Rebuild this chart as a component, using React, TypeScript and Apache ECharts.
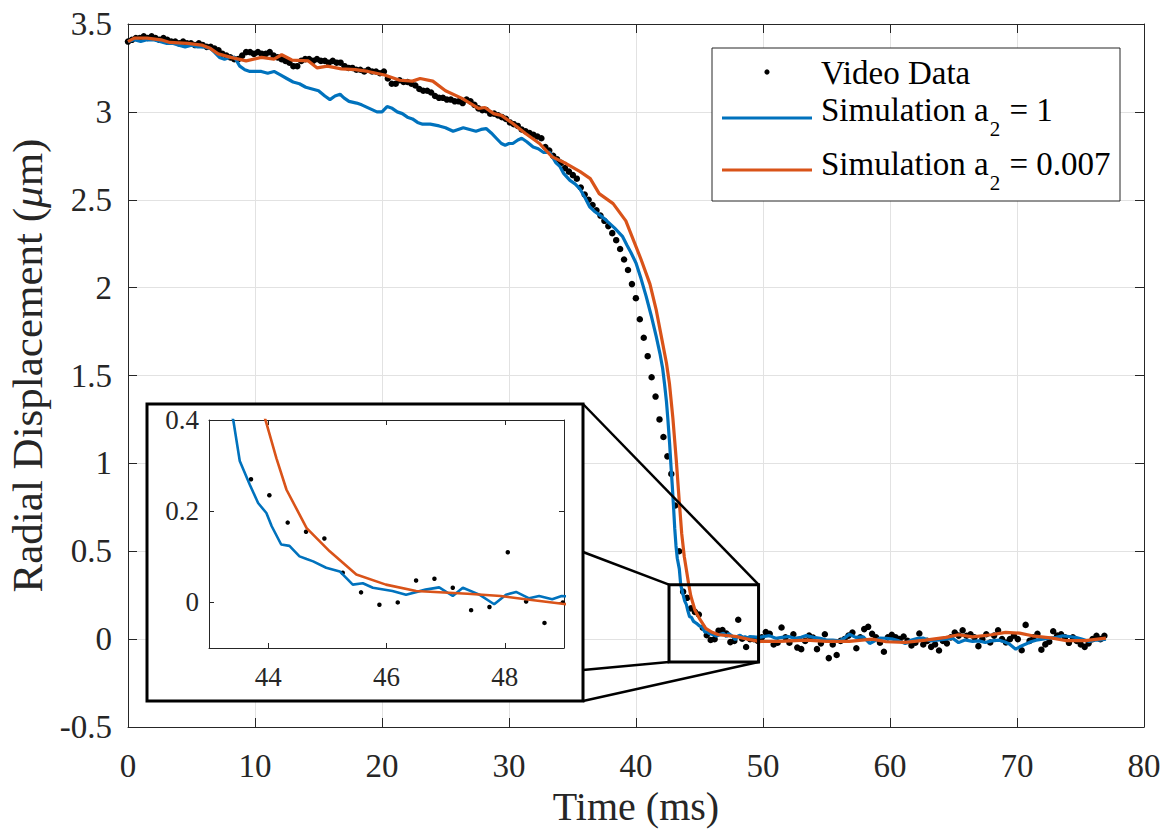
import React, { useEffect, useRef } from "react";
import * as echarts from "echarts";

const FONT = '"Liberation Serif", "Times New Roman", Times, serif';
const INK = "#262626";
const GRID_GRAY = "#e2e2e2";
const BLUE = "#0072BD";
const ORANGE = "#D95319";

// ---- Video data: one sample per frame (frame period in ms) ----
const FRAME_MS = 0.31;
const videoSeg1 = [3.40, 3.41, 3.42, 3.42, 3.43, 3.42, 3.43, 3.42, 3.41, 3.42, 3.41, 3.40, 3.40, 3.39, 3.40, 3.39, 3.39, 3.38, 3.39, 3.38, 3.37, 3.37, 3.36, 3.35, 3.33, 3.32, 3.31, 3.30, 3.30, 3.32, 3.34, 3.34, 3.33];
const videoSeg2 = [3.34, 3.33, 3.33, 3.34, 3.32, 3.31, 3.30, 3.29, 3.28, 3.26, 3.26, 3.29, 3.30, 3.30, 3.29, 3.30, 3.29, 3.29, 3.28, 3.29, 3.28, 3.28, 3.26, 3.25, 3.25, 3.24, 3.24, 3.23, 3.24, 3.23, 3.23, 3.22, 3.23];
const videoSeg3 = [3.19, 3.16, 3.16, 3.18, 3.17, 3.17, 3.16, 3.15, 3.13, 3.12, 3.12, 3.11, 3.09, 3.08, 3.08, 3.07, 3.07, 3.06, 3.06, 3.05, 3.07, 3.06, 3.04, 3.02, 3.01, 3.01, 2.99, 2.99, 2.98, 2.97, 2.96, 2.94, 2.93, 2.92];
const videoSeg4 = [2.90, 2.89, 2.88, 2.87, 2.86, 2.85, 2.80, 2.78, 2.75, 2.73, 2.71, 2.68, 2.66, 2.64, 2.62, 2.57, 2.53, 2.50, 2.47, 2.44, 2.41, 2.38, 2.35, 2.31, 2.27, 2.22, 2.16, 2.10, 2.02, 1.94, 1.82, 1.715, 1.61, 1.49, 1.38, 1.25, 1.15, 1.04, 0.94, 0.76, 0.50];
const videoSeg5 = [0.27, 0.235, 0.175, 0.155, 0.14, 0.065, 0.022, -0.005, 0.0, 0.048, 0.052, 0.032, -0.017, -0.01, 0.11, 0.002, -0.045, 0.0];
const videoSeg6 = [0.0, -0.01, 0.01, 0.04, 0.03, -0.03, -0.02, 0.066, 0.01, -0.02, 0.028, -0.048, -0.057, -0.01, 0.02, 0.009, -0.057, -0.024, 0.028, -0.108, -0.03, -0.09, -0.01, 0.0, 0.02, 0.038, -0.052, 0.01, 0.057, 0.07];
const videoSeg7 = [0.03, 0.01, -0.02, -0.072, 0.01, 0.025, 0.01, 0.0, 0.015, -0.01, -0.036, -0.02, 0.032, -0.03, -0.01, -0.044, -0.03, -0.065, -0.01, -0.024, 0.01, 0.038, 0.02, 0.05, 0.019, 0.028, 0.01, -0.04, 0.0, 0.028];
const videoSeg8 = [-0.019, 0.02, 0.05, 0.0, -0.019, 0.0, 0.019, 0.0, -0.063, 0.081, -0.01, 0.01, 0.03, -0.06, -0.03, -0.015, 0.045, 0.02, 0.028, 0.01, -0.021, 0.01, -0.01, -0.03, -0.044, -0.024, 0.0, 0.019, 0.0, 0.019];
const videoValues = [...videoSeg1, ...videoSeg2, ...videoSeg3, ...videoSeg4, ...videoSeg5, ...videoSeg6, ...videoSeg7, ...videoSeg8];

// ---- Simulation a2 = 1 (time ms, displacement um) ----
const simA1: [number, number][] = [
  [0, 3.40], [0.5, 3.41], [1.0, 3.40], [1.5, 3.41], [2.0, 3.41], [2.5, 3.40], [3.0, 3.39], [3.5, 3.39], [4.0, 3.38], [4.5, 3.37],
  [5.0, 3.38], [5.5, 3.37], [6.0, 3.37], [6.5, 3.36], [6.8, 3.34], [7.2, 3.31], [7.6, 3.30], [8.0, 3.31], [8.4, 3.31], [8.8, 3.26],
  [9.2, 3.24], [9.6, 3.23], [10.0, 3.23], [10.5, 3.23], [11.0, 3.22], [11.5, 3.23], [12.0, 3.21], [12.5, 3.19], [13.0, 3.17], [13.5, 3.16],
  [14.0, 3.14], [14.5, 3.13], [15.0, 3.12], [15.5, 3.09], [15.9, 3.07], [16.3, 3.09], [16.7, 3.10], [17.0, 3.08], [17.4, 3.06], [18.0, 3.05],
  [18.4, 3.04], [19.0, 3.02], [19.6, 3.00], [20.0, 3.00], [20.4, 3.03], [20.8, 3.02], [21.2, 3.00], [21.6, 2.99], [22.0, 2.97], [22.4, 2.96],
  [22.8, 2.94], [23.2, 2.93], [23.8, 2.93], [24.5, 2.92], [25.0, 2.91], [25.6, 2.89], [26.0, 2.90], [26.4, 2.91], [26.9, 2.90], [27.4, 2.89],
  [27.8, 2.90], [28.2, 2.905], [28.6, 2.88], [29.0, 2.85], [29.4, 2.82], [29.7, 2.81], [30.0, 2.82], [30.3, 2.82], [30.7, 2.84], [31.0, 2.85],
  [31.4, 2.83], [31.9, 2.80], [32.3, 2.79], [32.7, 2.77], [33.2, 2.77], [33.7, 2.71], [34.0, 2.69], [34.3, 2.65], [34.8, 2.61], [35.2, 2.59],
  [35.6, 2.56], [36.0, 2.51], [36.35, 2.46], [36.8, 2.43], [37.2, 2.41], [37.7, 2.38], [38.3, 2.34], [38.95, 2.29], [39.3, 2.24], [39.6, 2.20],
  [40.0, 2.14], [40.4, 2.05], [40.8, 1.95], [41.2, 1.84], [41.6, 1.72], [41.9, 1.62], [42.1, 1.54], [42.25, 1.45], [42.4, 1.35], [42.5, 1.26],
  [42.65, 1.11], [42.75, 0.99], [42.85, 0.88], [42.95, 0.76], [43.05, 0.63], [43.15, 0.53], [43.25, 0.46], [43.41, 0.40], [43.52, 0.31], [43.69, 0.258],
  [43.83, 0.218], [43.97, 0.196], [44.06, 0.167], [44.22, 0.127], [44.36, 0.124], [44.53, 0.101], [44.65, 0.095], [44.76, 0.09], [44.98, 0.076], [45.21, 0.068],
  [45.43, 0.039], [45.6, 0.042], [45.77, 0.032], [46.1, 0.025], [46.33, 0.017], [46.66, 0.028], [46.89, 0.033], [47.12, 0.014], [47.29, 0.032], [47.57, 0.017],
  [47.82, -0.004], [48.02, 0.017], [48.19, 0.023], [48.41, 0.009], [48.58, 0.014], [48.8, 0.007], [48.96, 0.014], [49.7, 0.01], [50.5, 0.02], [51.0, 0.005],
  [51.5, 0.01], [52.0, 0.015], [52.5, 0.005], [53.0, 0.01], [53.4, 0.02], [54.0, 0.01], [54.5, 0.005], [55.0, -0.005], [55.5, -0.005], [56.0, -0.01],
  [56.4, 0.005], [56.8, 0.028], [57.3, 0.01], [57.9, 0.013], [58.4, -0.025], [58.8, -0.01], [59.2, 0.006], [59.7, 0.005], [60.2, 0.0], [60.7, -0.01],
  [61.2, -0.025], [61.7, -0.005], [62.2, 0.005], [62.6, 0.006], [63.2, -0.01], [63.9, -0.005], [64.4, 0.0], [64.9, 0.006], [65.4, -0.02], [65.9, -0.005],
  [66.5, -0.013], [67.0, -0.01], [67.5, -0.019], [68.0, -0.01], [68.6, -0.006], [69.0, -0.015], [69.4, -0.028], [69.9, -0.057], [70.3, -0.04], [70.7, -0.028],
  [71.1, -0.015], [71.5, -0.006], [72.0, 0.0], [72.6, 0.006], [73.1, 0.01], [73.6, 0.019], [74.1, 0.015], [74.6, 0.01], [75.1, 0.0], [75.7, -0.013],
  [76.1, -0.005], [76.5, -0.006], [77.0, 0.0],
];

// ---- Simulation a2 = 0.007 ----
const simA007: [number, number][] = [
  [0, 3.40], [0.5, 3.42], [1.5, 3.42], [2.6, 3.41], [3.3, 3.395], [4.7, 3.39], [5.8, 3.38], [6.5, 3.36], [7.1, 3.33], [8.1, 3.31],
  [9.3, 3.29], [10.5, 3.31], [11.5, 3.30], [12.1, 3.325], [12.9, 3.295], [14.2, 3.29], [14.9, 3.25], [15.7, 3.26], [16.8, 3.245], [17.9, 3.24],
  [18.9, 3.23], [20.2, 3.21], [21.4, 3.18], [22.4, 3.175], [23.0, 3.19], [24.0, 3.175], [25.0, 3.12], [26.3, 3.077], [27.6, 3.02], [28.1, 3.025],
  [28.8, 2.99], [29.4, 2.98], [30.3, 2.934], [31.3, 2.877], [32.4, 2.82], [33.4, 2.744], [34.5, 2.706], [35.6, 2.66], [36.4, 2.62], [37.1, 2.535],
  [38.2, 2.478], [39.2, 2.38], [40.4, 2.16], [41.1, 2.02], [41.6, 1.87], [42.0, 1.72], [42.4, 1.57], [42.64, 1.45], [42.9, 1.26], [43.17, 1.02],
  [43.4, 0.79], [43.6, 0.60], [43.8, 0.47], [43.97, 0.393], [44.14, 0.316], [44.31, 0.247], [44.65, 0.163], [45.04, 0.112], [45.49, 0.061], [45.99, 0.039],
  [46.5, 0.025], [47.37, 0.019], [47.93, 0.014], [48.35, 0.007], [48.97, -0.003], [49.7, -0.013], [51.3, -0.013], [53.4, -0.006], [55.0, -0.013], [56.8, -0.013],
  [58.6, 0.0], [59.7, -0.015], [61.2, -0.019], [62.8, -0.006], [64.4, 0.01], [65.4, 0.025], [66.5, 0.013], [68.0, 0.025], [69.1, 0.038], [70.2, 0.034],
  [71.2, 0.019], [72.8, 0.006], [73.9, -0.009], [75.4, -0.009], [77.0, 0.006],
];

const seriesNames = ["Video Data", "Simulation a", "Simulation a"];
const legendSuffix = ["", " = 1", " = 0.007"];

// Inset axes
const insetXTicks = [44, 46, 48];
const insetYTicks = [0, 0.2, 0.4];
const insetXRange = [43, 49];
const insetYRange = [-0.1, 0.4];
// Zoomed region marked on the main plot (data units)
const zoomBoxX = [42.6, 49.65];
const zoomBoxY = [-0.13, 0.31];

export default function App() {
  const ref = useRef<HTMLDivElement>(null);

  useEffect(() => {
    const el = ref.current!;
    const chart = echarts.init(el, null, { renderer: "svg" });
    const videoData = videoValues.map((v, i) => [Math.round(i * FRAME_MS * 100) / 100, v]);

    const mainAxisLine = { show: true, onZero: false, lineStyle: { color: INK, width: 1 } };
    const mainTick = { show: true, inside: true, length: 9, lineStyle: { color: INK, width: 1 } };
    const insetAxisLine = { show: true, onZero: false, lineStyle: { color: INK, width: 1 } };
    const richLabel = (size: number) => ({
      color: INK, fontFamily: FONT, fontSize: size,
      formatter: "{t|{value}}",
      rich: { t: { color: INK, fontFamily: FONT, fontSize: size } },
    });

    chart.setOption({
      animation: false,
      backgroundColor: "#ffffff",
      grid: [
        { left: 128, top: 24, width: 1016, height: 703, show: false, containLabel: false, outerBoundsMode: "none" },
        { left: 209, top: 420, width: 355, height: 228, show: false, z: 10, containLabel: false, outerBoundsMode: "none" },
      ],
      xAxis: [
        {
          type: "value", gridIndex: 0, position: "bottom", min: 0, max: 80, interval: 10,
          axisLine: mainAxisLine, axisTick: mainTick,
          axisLabel: { ...richLabel(33), margin: 22 },
          splitLine: { show: true, lineStyle: { color: GRID_GRAY, width: 1 } },
          name: "Time (ms)", nameLocation: "middle", nameGap: 54,
          nameTextStyle: { color: INK, fontFamily: FONT, fontSize: 40 },
        },
        {
          type: "value", gridIndex: 0, position: "top", min: 0, max: 80, interval: 10,
          axisLine: mainAxisLine, axisTick: mainTick, axisLabel: { show: false }, splitLine: { show: false },
        },
        {
          type: "value", gridIndex: 1, position: "bottom", min: insetXRange[0], max: insetXRange[1], z: 10,
          axisLine: insetAxisLine,
          axisTick: { show: true, inside: true, length: 5, customValues: insetXTicks, lineStyle: { color: INK } },
          axisLabel: { ...richLabel(27), margin: 15, customValues: insetXTicks },
          splitLine: { show: false },
        },
        {
          type: "value", gridIndex: 1, position: "top", min: insetXRange[0], max: insetXRange[1], z: 10,
          axisLine: insetAxisLine,
          axisTick: { show: true, inside: true, length: 5, customValues: insetXTicks, lineStyle: { color: INK } },
          axisLabel: { show: false }, splitLine: { show: false },
        },
      ],
      yAxis: [
        {
          type: "value", gridIndex: 0, position: "left", min: -0.5, max: 3.5, interval: 0.5,
          axisLine: mainAxisLine, axisTick: mainTick,
          axisLabel: { ...richLabel(33), margin: 16 },
          splitLine: { show: true, lineStyle: { color: GRID_GRAY, width: 1 } },
          name: "Radial Displacement ({it|μ}m)", nameLocation: "middle", nameGap: 74,
          nameTextStyle: {
            color: INK, fontFamily: FONT, fontSize: 43, padding: [0, 0, 0, 20],
            rich: { it: { fontStyle: "italic", fontFamily: FONT, fontSize: 43, color: INK } },
          },
        },
        {
          type: "value", gridIndex: 0, position: "right", min: -0.5, max: 3.5, interval: 0.5,
          axisLine: mainAxisLine, axisTick: mainTick, axisLabel: { show: false }, splitLine: { show: false },
        },
        {
          type: "value", gridIndex: 1, position: "left", min: insetYRange[0], max: insetYRange[1], z: 10,
          axisLine: insetAxisLine,
          axisTick: { show: true, inside: true, length: 5, customValues: insetYTicks, lineStyle: { color: INK } },
          axisLabel: { ...richLabel(27), margin: 10, customValues: insetYTicks },
          splitLine: { show: false },
        },
        {
          type: "value", gridIndex: 1, position: "right", min: insetYRange[0], max: insetYRange[1], z: 10,
          axisLine: insetAxisLine,
          axisTick: { show: true, inside: true, length: 5, customValues: insetYTicks, lineStyle: { color: INK } },
          axisLabel: { show: false }, splitLine: { show: false },
        },
      ],
      series: [
        {
          name: seriesNames[0], type: "scatter", xAxisIndex: 0, yAxisIndex: 0, data: videoData,
          symbolSize: 6.5, itemStyle: { color: "#000000", opacity: 1 }, z: 3, silent: true,
        },
        {
          name: "blue", type: "line", xAxisIndex: 0, yAxisIndex: 0, data: simA1, showSymbol: false,
          lineStyle: { color: BLUE, width: 3.2 }, itemStyle: { color: BLUE }, z: 4, silent: true,
        },
        {
          name: "orange", type: "line", xAxisIndex: 0, yAxisIndex: 0, data: simA007, showSymbol: false,
          lineStyle: { color: ORANGE, width: 3.2 }, itemStyle: { color: ORANGE }, z: 5, silent: true,
        },
        {
          name: "insetGrid", type: "line", xAxisIndex: 2, yAxisIndex: 2, data: [], z: 9, silent: true,
          markLine: {
            silent: true, symbol: "none", label: { show: false },
            lineStyle: { color: GRID_GRAY, width: 1, type: "solid" },
            data: [
              ...insetXTicks.map((v) => ({ xAxis: v })),
              ...insetYTicks.filter((v) => v < insetYRange[1]).map((v) => ({ yAxis: v })),
            ],
          },
        },
        {
          name: "insetVideo", type: "scatter", xAxisIndex: 2, yAxisIndex: 2, data: videoData,
          symbolSize: 4.5, itemStyle: { color: "#000000", opacity: 1 }, z: 11, silent: true, clip: true,
        },
        {
          name: "insetBlue", type: "line", xAxisIndex: 2, yAxisIndex: 2, data: simA1, showSymbol: false,
          lineStyle: { color: BLUE, width: 2.6 }, z: 12, silent: true, clip: true,
        },
        {
          name: "insetOrange", type: "line", xAxisIndex: 2, yAxisIndex: 2, data: simA007, showSymbol: false,
          lineStyle: { color: ORANGE, width: 2.6 }, z: 13, silent: true, clip: true,
        },
      ],
    });

    // annotation geometry
    const pTL = chart.convertToPixel({ gridIndex: 0 }, [zoomBoxX[0], zoomBoxY[1]]) as number[];
    const pBR = chart.convertToPixel({ gridIndex: 0 }, [zoomBoxX[1], zoomBoxY[0]]) as number[];
    const inset = { l: 147, t: 404, r: 583, b: 701 };

    const ctx = document.createElement("canvas").getContext("2d")!;
    const measure = (txt: string, size: number) => {
      ctx.font = `${size}px "Liberation Serif"`;
      return ctx.measureText(txt).width;
    };
    const LFS = 33;
    const SFS = 21;
    const textStyle = (text: string, size: number) => ({
      text, fontSize: size, fontFamily: FONT, fill: "#000000",
      textAlign: "left", align: "left", textVerticalAlign: "middle", verticalAlign: "middle",
    });
    const legendX = 821;
    const rowsY = [73, 110, 164];
    const legendElems: any[] = [
      { type: "rect", shape: { x: 712, y: 48, width: 408, height: 153 }, style: { fill: "#ffffff", stroke: INK, lineWidth: 1 }, z: 20 },
      { type: "circle", shape: { cx: 767, cy: 72, r: 2.6 }, style: { fill: "#000000" }, z: 21 },
      { type: "line", shape: { x1: 722, y1: 118, x2: 812, y2: 118 }, style: { stroke: BLUE, lineWidth: 3 }, z: 21 },
      { type: "line", shape: { x1: 722, y1: 170, x2: 812, y2: 170 }, style: { stroke: ORANGE, lineWidth: 3 }, z: 21 },
      { type: "text", x: legendX, y: rowsY[0], style: textStyle(seriesNames[0], LFS), z: 21 },
    ];
    [1, 2].forEach((k) => {
      const w1 = measure(seriesNames[k], LFS);
      const w2 = measure("2", SFS);
      legendElems.push(
        { type: "text", x: legendX, y: rowsY[k], style: textStyle(seriesNames[k], LFS), z: 21 },
        { type: "text", x: legendX + w1 + 1, y: rowsY[k] + 19, style: textStyle("2", SFS), z: 21 },
        { type: "text", x: legendX + w1 + w2 + 2, y: rowsY[k], style: textStyle(legendSuffix[k], LFS), z: 21 },
      );
    });

    chart.setOption({
      graphic: {
        elements: [
          {
            type: "rect", shape: { x: inset.l, y: inset.t, width: inset.r - inset.l, height: inset.b - inset.t },
            style: { fill: "#ffffff", stroke: "#000000", lineWidth: 3 }, z: 8,
          },
          {
            type: "rect", shape: { x: pTL[0], y: pTL[1], width: pBR[0] - pTL[0], height: pBR[1] - pTL[1] },
            style: { fill: "none", stroke: "#000000", lineWidth: 3 }, z: 15,
          },
          { type: "line", shape: { x1: inset.r, y1: inset.t, x2: pBR[0], y2: pTL[1] }, style: { stroke: "#000000", lineWidth: 2.5 }, z: 15 },
          { type: "line", shape: { x1: inset.r, y1: 552, x2: pTL[0], y2: pTL[1] }, style: { stroke: "#000000", lineWidth: 2.5 }, z: 15 },
          { type: "line", shape: { x1: inset.r, y1: 670, x2: pTL[0], y2: pBR[1] }, style: { stroke: "#000000", lineWidth: 2.5 }, z: 15 },
          { type: "line", shape: { x1: inset.r, y1: inset.b, x2: pBR[0], y2: pBR[1] }, style: { stroke: "#000000", lineWidth: 2.5 }, z: 15 },
          ...legendElems,
        ],
      },
    });

    return () => chart.dispose();
  }, []);

  return (
    <div
      ref={ref}
      style={{ position: "fixed", left: 0, top: 0, width: 1165, height: 830, background: "#ffffff" }}
    />
  );
}
